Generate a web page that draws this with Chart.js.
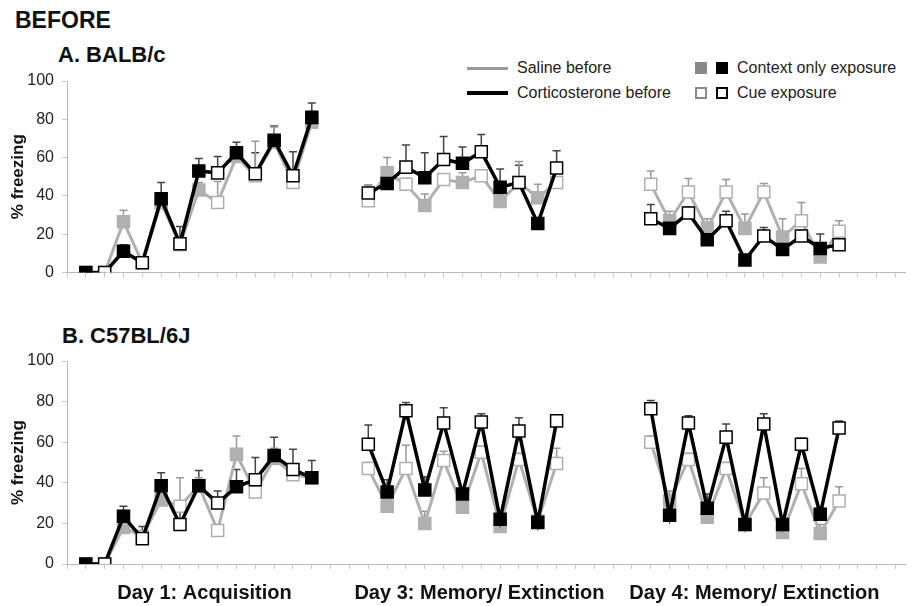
<!DOCTYPE html>
<html>
<head>
<meta charset="utf-8">
<script src="https://cdn.jsdelivr.net/npm/chart.js@4.4.0/dist/chart.umd.min.js"></script>
<style>
  body { margin: 0; background: #fff; width: 915px; height: 606px; position: relative; overflow: hidden;
         font-family: 'Liberation Sans', Arial, sans-serif; color: #111; }
  canvas { position: absolute; left: 0; }
  .title { position: absolute; font-weight: bold; font-size: 22px; line-height: 22px; white-space: nowrap; }
  .leg { position: absolute; font-size: 16px; line-height: 18px; color: #222; white-space: nowrap; }
  .line { position: absolute; width: 41px; }
  .sq { position: absolute; width: 12px; height: 12px; box-sizing: border-box; }
</style>
</head>
<body>
<div class="title" style="left:15px; top:9px; font-size:23px;">BEFORE</div>
<div class="title" style="left:58px; top:44px;">A. BALB/c</div>
<div class="title" style="left:62px; top:325px;">B. C57BL/6J</div>

<div class="line" style="left:467px; top:67px; height:3px; background:#9a9a9a;"></div>
<div class="leg" style="left:517px; top:59px;">Saline before</div>
<div class="line" style="left:467px; top:91px; height:4px; background:#000;"></div>
<div class="leg" style="left:517px; top:84px;">Corticosterone before</div>
<div class="sq" style="left:695px; top:62px; background:#888;"></div>
<div class="sq" style="left:716px; top:62px; background:#000;"></div>
<div class="leg" style="left:737px; top:59px;">Context only exposure</div>
<div class="sq" style="left:695px; top:87px; border:2px solid #888; background:#fff;"></div>
<div class="sq" style="left:716px; top:87px; border:2.5px solid #000; background:#fff;"></div>
<div class="leg" style="left:737px; top:84px;">Cue exposure</div>

<canvas id="panelA" width="915" height="290" style="top:0px;"></canvas>
<canvas id="panelB" width="915" height="306" style="top:300px;"></canvas>

<script>
// sessions along the x axis
const days = ['Day 1: Acquisition', 'Day 3: Memory/ Extinction', 'Day 4: Memory/ Extinction'];
const dayStart = [1, 16, 31];
const dayLabelPos = [7.3, 21.9, 36.5];
// C = context only exposure, Q = cue exposure
const exposures = ['CQCQCQCQCQCQC', 'QCQCQCQCQCQ', 'QCQCQCQCQCQ'];

// A. BALB/c  (% freezing, mean and upper error)
const balbCort = [
  [0, 0, 11, 5, 38.5, 15, 53, 52, 62.5, 51.5, 69, 50.5, 81],
  [41.5, 46.5, 55, 49.5, 59, 57, 63, 44.5, 47, 25.5, 54.5],
  [28, 23, 31, 17, 27, 6.5, 19, 12, 19, 12.5, 14.5]
];
const balbCortErr = [
  [0, 0, 3.5, 0, 8.5, 9, 6.5, 8.5, 5.5, 11, 7.5, 12.5, 7.5],
  [4, 4, 11.5, 13, 12, 8.5, 9, 9.5, 9, 0, 9],
  [7.5, 3, 3, 3, 5, 2, 4.5, 3, 3, 7.5, 3]
];
const balbSaline = [
  [0, 0, 26.5, 5, 36.5, 14.5, 43, 36.5, 60.5, 50.5, 68, 47, 78.5],
  [37.5, 52, 46, 35, 48.5, 47, 50.5, 37, 47, 39, 47],
  [46, 27, 42, 23, 42, 23, 42, 18.5, 27, 8, 21.5]
];
const balbSalineErr = [
  [0, 0, 6, 0, 2, 3, 4, 11, 3, 18, 8, 5, 5.5],
  [8, 8, 3, 6, 3, 5, 3, 4, 11, 7, 3],
  [7, 5, 7, 5, 6.5, 7.5, 4.5, 9.5, 9.5, 3, 5.5]
];

// B. C57BL/6J
const c57Cort = [
  [0, 0, 23.5, 12.5, 38.5, 19.5, 38.5, 30, 38, 41.5, 53.5, 46.5, 42.5],
  [59, 35.5, 75.5, 36.5, 69.5, 34.5, 70, 22, 65.5, 20.5, 70.5],
  [76.5, 24, 69.5, 27.5, 62.5, 19.5, 69, 19.5, 59, 24.5, 67]
];
const c57CortErr = [
  [0, 0, 5, 6, 6.5, 7, 7.5, 6, 8.5, 11, 9, 10, 8.5],
  [9.5, 6, 4, 6.5, 7.5, 3, 4, 2, 6.5, 2, 1.5],
  [4, 3, 3.5, 7, 6.5, 2, 5, 2, 3, 3, 3.5]
];
const c57Saline = [
  [0, 0, 18, 13.5, 31.5, 28.5, 38.5, 16.5, 54, 35.5, 52, 44, 42.5],
  [47, 28.5, 47, 20, 51, 28, 55, 18.5, 51.5, 21, 49.5],
  [60, 31, 51.5, 23, 47, 19.5, 35, 15.5, 39.5, 15, 31]
];
const c57SalineErr = [
  [0, 0, 3, 3, 4, 14, 4, 3, 9, 4, 5, 4, 3],
  [3, 3, 11.5, 6, 4.5, 3, 3, 2, 3, 2, 7.5],
  [3, 5, 3, 4, 3, 2, 7.5, 2, 7.5, 4.5, 7]
];

const CORT = '#000000', SALINE = '#b0b0b0';

function series(label, means, errs, color, errColor, width) {
  const data = [], err = [], bg = [];
  means.forEach((day, d) => {
    day.forEach((v, k) => {
      data.push({ x: dayStart[d] + k, y: v });
      err.push(errs[d][k]);
      bg.push(exposures[d][k] === 'Q' ? '#ffffff' : color);
    });
    data.push({ x: dayStart[d] + day.length, y: null });  // break between sessions
    err.push(null);
    bg.push(color);
  });
  return {
    label: label, data: data, errors: err, errorColor: errColor,
    borderColor: color, borderWidth: width, tension: 0, spanGaps: false,
    pointStyle: 'rect', pointRadius: 8.5, pointBackgroundColor: bg,
    pointBorderColor: color, pointBorderWidth: 1.5
  };
}

// upward error bars with a cap
const errorBars = {
  id: 'errorBars',
  beforeDatasetsDraw(chart) {
    const ctx = chart.ctx, ys = chart.scales.y;
    chart.data.datasets.forEach((ds, i) => {
      const meta = chart.getDatasetMeta(i);
      ctx.save();
      ctx.strokeStyle = ds.errorColor;
      ctx.lineWidth = 1.5;
      meta.data.forEach((pt, j) => {
        const e = ds.errors[j], v = ds.data[j].y;
        if (e == null || v == null || e <= 0) return;
        const top = ys.getPixelForValue(v + e);
        ctx.beginPath();
        ctx.moveTo(pt.x, pt.y);
        ctx.lineTo(pt.x, top);
        ctx.moveTo(pt.x - 4, top);
        ctx.lineTo(pt.x + 4, top);
        ctx.stroke();
      });
      ctx.restore();
    });
  }
};

function makePanel(id, cort, cortErr, saline, salineErr, padTop, xHeight, withDays) {
  const scales = {
    x: {
      type: 'linear', min: 0, max: 44.5, position: 'bottom', weight: 0,
      grid: { drawOnChartArea: false, drawTicks: true, tickLength: 5, color: '#c8c8c8' },
      border: { color: '#b8b8b8', width: 1 },
      ticks: { stepSize: 1, autoSkip: false, includeBounds: false, maxRotation: 0, callback: () => '' },
      afterFit: s => { s.height = xHeight; }
    },
    y: {
      min: 0, max: 100,
      grid: { drawOnChartArea: false, drawTicks: true, tickLength: 5, color: '#c8c8c8' },
      border: { color: '#b8b8b8', width: 1 },
      ticks: { stepSize: 10, padding: 8, color: '#222', font: { size: 16, family: "'Liberation Sans', Arial" },
               callback: v => (v % 20 === 0 ? v : '') },
      title: { display: true, text: '% freezing', color: '#111', padding: { top: 8, bottom: 0 },
               font: { size: 17, weight: 'bold', family: "'Liberation Sans', Arial" } },
      afterFit: s => { s.width = 67; }
    }
  };
  if (withDays) {
    scales.xd = {
      type: 'linear', min: 0, max: 44.5, position: 'bottom', weight: 1,
      grid: { display: false, drawTicks: false },
      border: { display: false },
      afterBuildTicks: s => { s.ticks = dayLabelPos.map(v => ({ value: v })); },
      ticks: { autoSkip: false, maxRotation: 0, padding: 11, color: '#111',
               font: { size: 20, weight: 'bold', family: "'Liberation Sans', Arial, sans-serif" },
               callback: (v, i) => days[i] },
      afterFit: s => { s.height = 36; }
    };
  }
  return new Chart(document.getElementById(id), {
    type: 'line',
    data: {
      datasets: [
        series('Corticosterone before', cort, cortErr, CORT, '#444', 3.5),
        series('Saline before', saline, salineErr, SALINE, '#999', 3)
      ]
    },
    options: {
      responsive: false,
      animation: false,
      layout: { padding: { top: padTop, right: 0, bottom: 0, left: 0 } },
      plugins: { legend: { display: false }, tooltip: { enabled: false } },
      scales: scales
    },
    plugins: [errorBars]
  });
}

makePanel('panelA', balbCort, balbCortErr, balbSaline, balbSalineErr, 81, 9, false);
makePanel('panelB', c57Cort, c57CortErr, c57Saline, c57SalineErr, 61, 6, true);
</script>
</body>
</html>
